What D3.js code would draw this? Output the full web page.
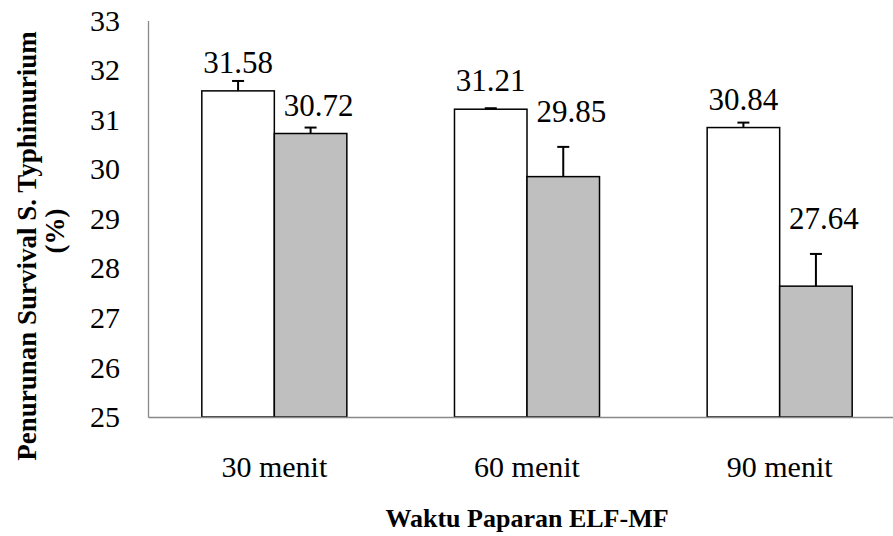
<!DOCTYPE html>
<html>
<head>
<meta charset="utf-8">
<script src="https://cdn.jsdelivr.net/npm/d3@7/dist/d3.min.js"></script>
<style>
  html, body { margin: 0; padding: 0; background: #fff; }
  svg { display: block; }
</style>
</head>
<body>
<svg id="chart" width="893" height="536"></svg>
<script>
// ---- data ----
const categories = ["30 menit", "60 menit", "90 menit"];
const seriesNames = ["A", "B"];
const seriesA = [31.58, 31.21, 30.84];
const seriesB = [30.72, 29.85, 27.64];
const errorA = [0.20, 0.02, 0.10];
const errorB = [0.12, 0.60, 0.65];
const yTicks = [25, 26, 27, 28, 29, 30, 31, 32, 33];
const xTitle = "Waktu Paparan ELF-MF";
const yTitleLines = ["Penurunan Survival S. Typhimurium", "(%)"];

// ---- layout ----
const FONT = "Liberation Serif";
const svg = d3.select("#chart");
const plot = { left: 148, right: 906, top: 20.5, bottom: 417 };
const fills = ["#ffffff", "#bfbfbf"];

const y = d3.scaleLinear().domain([25, 33]).range([plot.bottom, plot.top]);
const x0 = d3.scaleBand().domain(categories).range([plot.left, plot.right])
  .paddingInner(0.426).paddingOuter(0.213);
const x1 = d3.scaleBand().domain(seriesNames).range([0, x0.bandwidth()]);

const rows = [];
categories.forEach((c, i) => {
  rows.push({ cat: c, s: "A", v: seriesA[i], e: errorA[i], fill: fills[0] });
  rows.push({ cat: c, s: "B", v: seriesB[i], e: errorB[i], fill: fills[1] });
});

// bars
svg.append("g").selectAll("rect").data(rows).join("rect")
  .attr("x", d => x0(d.cat) + x1(d.s))
  .attr("y", d => y(d.v))
  .attr("width", x1.bandwidth())
  .attr("height", d => y(25) - y(d.v))
  .attr("fill", d => d.fill)
  .attr("stroke", "#000")
  .attr("stroke-width", 1.5);

// error bars
const eg = svg.append("g").attr("stroke", "#000").attr("stroke-width", 2);
rows.forEach(d => {
  const cx = x0(d.cat) + x1(d.s) + x1.bandwidth() / 2;
  eg.append("line").attr("x1", cx).attr("x2", cx).attr("y1", y(d.v)).attr("y2", y(d.v + d.e));
  eg.append("line").attr("x1", cx - 6).attr("x2", cx + 6).attr("y1", y(d.v + d.e)).attr("y2", y(d.v + d.e));
});

// data labels
svg.append("g").selectAll("text").data(rows).join("text")
  .attr("x", d => x0(d.cat) + x1(d.s) + x1.bandwidth() / 2 + (d.s === "B" ? 8 : 0))
  .attr("y", d => d.e > 0.3 ? y(d.v + d.e) - 25 : y(d.v) - 18)
  .attr("text-anchor", "middle")
  .attr("font-family", FONT)
  .attr("font-size", 31)
  .attr("fill", "#000")
  .text(d => d.v.toFixed(2));

// y axis
const yAxis = svg.append("g").attr("transform", `translate(${plot.left},0)`)
  .call(d3.axisLeft(y).tickValues(yTicks).tickSize(0).tickPadding(28).tickFormat(d3.format("d")));
yAxis.attr("font-family", FONT).attr("font-size", 30);
yAxis.select(".domain").attr("stroke", "#898989").attr("stroke-width", 1.3);
yAxis.selectAll("text").attr("fill", "#000");

// x axis
const xAxis = svg.append("g").attr("transform", `translate(0,${plot.bottom})`)
  .call(d3.axisBottom(x0).tickSize(0).tickPadding(0));
xAxis.attr("font-family", FONT).attr("font-size", 30);
xAxis.select(".domain").attr("stroke", "#898989").attr("stroke-width", 1.3);
xAxis.selectAll("text").attr("fill", "#000").attr("dy", null).attr("y", 60);

// titles
svg.append("text")
  .attr("x", (plot.left + plot.right) / 2).attr("y", 527)
  .attr("text-anchor", "middle").attr("font-family", FONT).attr("font-size", 26).attr("font-weight", "bold")
  .attr("fill", "#000")
  .text(xTitle);

svg.append("text")
  .attr("transform", "translate(36,246) rotate(-90)")
  .attr("text-anchor", "middle").attr("font-family", FONT).attr("font-size", 27).attr("font-weight", "bold")
  .attr("fill", "#000")
  .text(yTitleLines[0]);
svg.append("text")
  .attr("transform", "translate(64,231) rotate(-90)")
  .attr("text-anchor", "middle").attr("font-family", FONT).attr("font-size", 27).attr("font-weight", "bold")
  .attr("fill", "#000")
  .text(yTitleLines[1]);
</script>
</body>
</html>
